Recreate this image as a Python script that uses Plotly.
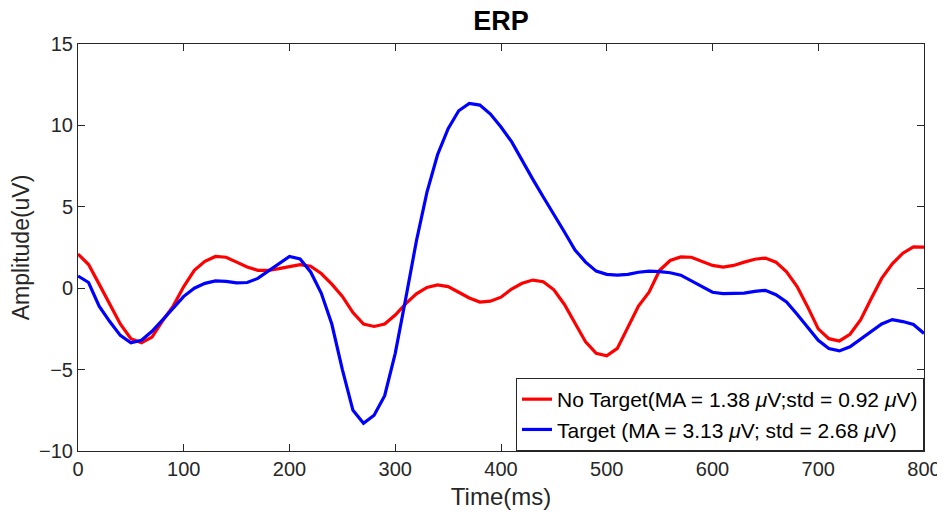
import plotly.graph_objects as go

time_ms = list(range(0, 810, 10))

no_target = [2.1, 1.45, 0.25, -1.0, -2.2, -3.1, -3.35, -3.0, -2.0, -1.1,
             0.1, 1.1, 1.65, 1.95, 1.9, 1.6, 1.3, 1.1, 1.1, 1.2,
             1.35, 1.45, 1.35, 0.9, 0.25, -0.5, -1.5, -2.2, -2.35, -2.2,
             -1.65, -0.95, -0.35, 0.05, 0.2, 0.1, -0.25, -0.6, -0.85, -0.8,
             -0.55, -0.05, 0.3, 0.5, 0.4, -0.1, -1.0, -2.2, -3.3, -4.0,
             -4.15, -3.7, -2.45, -1.1, -0.25, 1.1, 1.7, 1.92, 1.9, 1.65,
             1.4, 1.3, 1.4, 1.6, 1.78, 1.85, 1.6, 1.0, 0.1, -1.15,
             -2.5, -3.1, -3.24, -2.83, -1.95, -0.65, 0.6, 1.5, 2.15, 2.54,
             2.52]

target = [0.75, 0.35, -1.1, -2.05, -2.9, -3.35, -3.2, -2.65, -1.95, -1.2,
          -0.5, 0.0, 0.3, 0.45, 0.42, 0.33, 0.35, 0.6, 1.05, 1.5,
          1.95, 1.8, 1.0, -0.3, -2.2, -5.0, -7.5, -8.3, -7.8, -6.6,
          -4.0, -0.6, 2.9, 5.9, 8.2, 9.8, 10.9, 11.35, 11.25, 10.7,
          9.9, 9.0, 7.8, 6.7, 5.6, 4.55, 3.45, 2.35, 1.6, 1.05,
          0.85, 0.8, 0.85, 0.98, 1.05, 1.02, 0.95, 0.8, 0.45, 0.05,
          -0.25, -0.33, -0.32, -0.3, -0.2, -0.13, -0.4, -0.85, -1.6, -2.4,
          -3.2, -3.7, -3.85, -3.6, -3.15, -2.7, -2.2, -1.93, -2.05, -2.23,
          -2.78]

x_ticks = [0, 100, 200, 300, 400, 500, 600, 700, 800]
y_ticks = [-10, -5, 0, 5, 10, 15]

name_nt = "No Target(MA = 1.38 <i>\u03bc</i>V;std = 0.92 <i>\u03bc</i>V)"
name_t = "Target (MA = 3.13 <i>\u03bc</i>V; std = 2.68 <i>\u03bc</i>V)"

FONT = "Liberation Sans, Arial, sans-serif"
AX = "#262626"

# The page body adds an 8 px offset, so the figure is 8 px smaller than the window.
W, H = 937, 512

fig = go.Figure()
fig.add_trace(go.Scatter(x=time_ms, y=no_target, mode="lines", name=name_nt,
                         line=dict(color="#ff0000", width=3.2)))
fig.add_trace(go.Scatter(x=time_ms, y=target, mode="lines", name=name_t,
                         line=dict(color="#0000ff", width=3.2)))

axis_common = dict(showgrid=False, zeroline=False, showline=True, linecolor=AX,
                   linewidth=1, mirror="ticks", ticks="inside", ticklen=7,
                   tickcolor=AX, automargin=False,
                   tickfont=dict(family=FONT, size=20, color=AX))

fig.update_layout(
    width=W, height=H,
    margin=dict(l=70, r=21, t=36, b=69),
    paper_bgcolor="white", plot_bgcolor="white",
    title=dict(text="<b>ERP</b>", x=0.5, xref="paper", xanchor="center",
               y=1, yref="container", yanchor="top", pad=dict(t=3),
               font=dict(family=FONT, size=27, color="black")),
    xaxis=dict(range=[0, 800], tickvals=x_ticks,
               title=dict(text="Time(ms)", font=dict(family=FONT, size=24, color=AX), standoff=9),
               **axis_common),
    yaxis=dict(range=[-10, 15], tickvals=y_ticks,
               title=dict(text="Amplitude(uV)", font=dict(family=FONT, size=23, color=AX), standoff=6),
               **axis_common),
    legend=dict(x=1, y=0, xanchor="right", yanchor="bottom",
                bgcolor="white", bordercolor=AX, borderwidth=1,
                font=dict(family=FONT, size=21, color="black"),
                tracegroupgap=0, itemwidth=30),
    showlegend=True,
)

fig.write_html("out.html")
